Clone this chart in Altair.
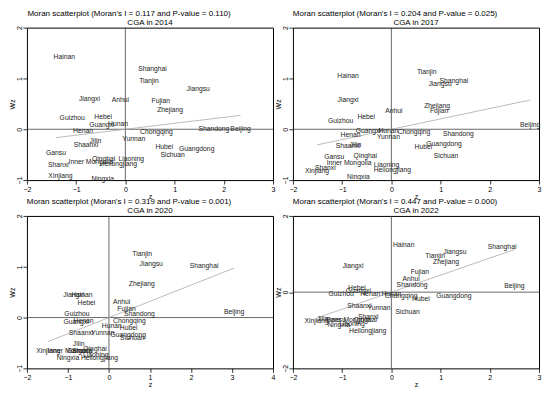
import altair as alt
import pandas as pd

provinces = ["Beijing", "Tianjin", "Hebei", "Shanxi", "Inner Mongolia", "Liaoning", "Jilin",
             "Heilongjiang", "Shanghai", "Jiangsu", "Zhejiang", "Anhui", "Fujian", "Jiangxi",
             "Shandong", "Henan", "Hubei", "Hunan", "Guangdong", "Guangxi", "Hainan",
             "Chongqing", "Sichuan", "Guizhou", "Yunnan", "Shaanxi", "Gansu", "Qinghai",
             "Ningxia", "Xinjiang"]

z_2014 = [2.34, 0.48, -0.45, -1.36, -0.70, 0.12, -0.61, -0.14, 0.55, 1.48, 0.91, -0.10, 0.72, -0.73,
          1.80, -0.86, 0.79, -0.15, 1.45, -0.48, -1.24, 0.63, 0.96, -1.08, 0.17, -0.80, -1.41, -0.44,
          -0.46, -1.32]
wz_2014 = [0.01, 0.95, 0.25, -0.71, -0.65, -0.58, -0.24, -0.68, 1.19, 0.79, 0.38, 0.57, 0.55, 0.59,
           0.01, -0.03, -0.34, 0.10, -0.38, 0.08, 1.43, -0.06, -0.50, 0.23, -0.19, -0.31, -0.47, -0.58,
           -0.97, -0.92]

z_2017 = [2.82, 0.72, -0.51, -1.34, -0.86, -0.10, -0.73, 0.02, 1.27, 0.99, 0.93, 0.05, 0.97, -0.88,
          1.36, -0.83, 0.65, -0.06, 1.07, -0.47, -0.88, 0.46, 1.11, -1.03, -0.06, -0.88, -1.16, -0.53,
          -0.67, -1.51]
wz_2017 = [0.08, 1.13, 0.24, -0.76, -0.66, -0.71, -0.31, -0.81, 0.94, 0.89, 0.46, 0.36, 0.36, 0.57,
           -0.09, -0.11, -0.35, -0.04, -0.29, -0.04, 1.05, -0.06, -0.52, 0.17, -0.15, -0.33, -0.55, -0.52,
           -0.93, -0.82]

z_2020 = [3.05, 0.81, -0.55, -0.65, -0.95, -0.32, -0.74, -0.23, 2.32, 1.03, 0.80, 0.31, 0.43, -0.86,
          0.74, -0.62, 0.48, 0.07, 0.47, -0.80, -0.66, 0.50, 0.57, -0.78, -0.15, -0.68, -0.78, -0.34,
          -1.00, -1.48]
wz_2020 = [0.11, 1.25, 0.28, -0.66, -0.66, -0.73, -0.52, -0.80, 1.02, 1.06, 0.66, 0.30, 0.16, 0.44,
           0.06, -0.07, -0.21, -0.16, -0.35, -0.08, 0.44, -0.07, -0.40, 0.06, -0.31, -0.31, -0.66, -0.61,
           -0.80, -0.66]

z_2022 = [2.50, 0.89, -0.70, -0.47, -0.87, -0.80, -1.40, -0.48, 2.25, 1.29, 1.11, 0.40, 0.58, -0.78,
          0.42, -0.43, 0.60, 0.00, 1.27, -0.67, 0.25, 0.20, 0.33, -1.02, -0.25, -0.65, -1.13, -0.53,
          -1.07, -1.52]
wz_2022 = [0.17, 0.94, 0.12, -0.66, -0.72, -0.83, -0.70, -1.01, 1.18, 1.06, 0.78, 0.35, 0.52, 0.69,
           0.18, -0.04, -0.18, -0.04, -0.11, 0.03, 1.24, -0.11, -0.51, -0.04, -0.42, -0.37, -0.72, -0.74,
           -0.87, -0.75]

years = ["2014", "2017", "2020", "2022"]
morans_i = [0.117, 0.204, 0.319, 0.447]
p_values = [0.110, 0.025, 0.001, 0.000]
x_domains = [[-2, 3], [-2, 3], [-2, 4], [-2, 3]]
y_domains = [[-1, 2], [-1, 2], [-1, 2], [-2, 2]]
series = [(z_2014, wz_2014), (z_2017, wz_2017), (z_2020, wz_2020), (z_2022, wz_2022)]

W = 247
H = 153
FONT = "Liberation Sans"


def panel(year, z, wz, mi, pv, xdom, ydom):
    df = pd.DataFrame({"province": provinces, "z": z, "wz": wz})
    origin = pd.DataFrame({"z": [0], "wz": [0]})
    xs = alt.Scale(domain=xdom, nice=False, zero=False)
    ys = alt.Scale(domain=ydom, nice=False, zero=False)
    x_axis = alt.Axis(values=list(range(xdom[0], xdom[1] + 1)), format="d", title="z")
    y_axis = alt.Axis(values=list(range(ydom[0], ydom[1] + 1)), format="d", title="Wz")

    vrule = alt.Chart(origin).mark_rule(color="#444444", strokeWidth=0.8).encode(
        x=alt.X("z:Q", scale=xs, axis=x_axis, title="z"))
    hrule = alt.Chart(origin).mark_rule(color="#444444", strokeWidth=0.8).encode(
        y=alt.Y("wz:Q", scale=ys, axis=y_axis, title="Wz"))
    fit = alt.Chart(df).transform_calculate(fit=f"{mi} * datum.z").mark_line(
        color="#aaaaaa", strokeWidth=0.8).encode(
        x=alt.X("z:Q", title="z"), y=alt.Y("fit:Q", title="Wz"))
    labels = alt.Chart(df).mark_text(font=FONT, fontSize=6.8, color="#222222",
                                     align="center", baseline="middle").encode(
        x=alt.X("z:Q", title="z"), y=alt.Y("wz:Q", title="Wz"), text="province:N")
    sub = alt.Chart(pd.DataFrame({"t": [f"CGA in {year}"]})).mark_text(
        font=FONT, fontSize=8, color="black", align="center", baseline="middle").encode(
        text="t:N", x=alt.value(W / 2), y=alt.value(-5))

    title = f"Moran scatterplot (Moran's I = {mi:.3f} and P-value = {pv:.3f})"
    return alt.layer(vrule, hrule, fit, labels, sub).properties(
        width=W, height=H,
        title=alt.TitleParams(text=title, anchor="middle", dx=-21, offset=1, frame="group"))


panels = [panel(years[i], series[i][0], series[i][1], morans_i[i], p_values[i],
                x_domains[i], y_domains[i]) for i in range(4)]

chart = alt.concat(*panels, columns=2, spacing={"row": 36, "column": 20}, bounds="flush").properties(
    padding=0
).configure_view(
    stroke="black", strokeWidth=1
).configure_axis(
    domain=False, grid=False, tickColor="black", tickSize=4, tickWidth=0.8,
    labelFont=FONT, labelFontSize=7, labelColor="black", labelPadding=1, labelFlush=False,
    titleFont=FONT, titleFontSize=7, titleFontWeight="normal", titleColor="black", titlePadding=0
).configure_axisY(
    labelAngle=270, labelAlign="center", labelBaseline="bottom", labelPadding=0
).configure_title(
    font=FONT, fontSize=8, fontWeight="normal", color="black"
)

chart.save("out.html", embed_options={"renderer": "svg", "actions": False})
